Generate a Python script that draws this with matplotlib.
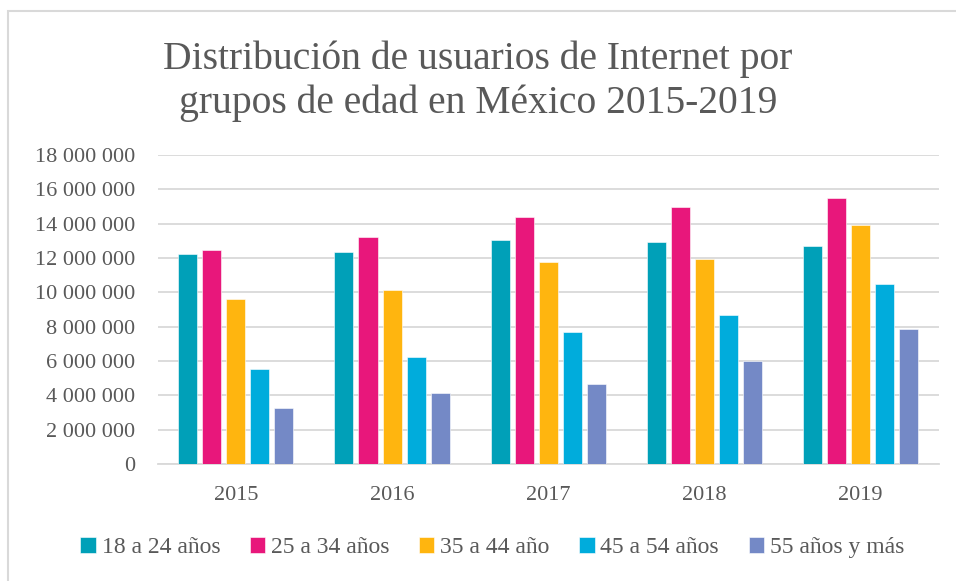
import matplotlib
matplotlib.use("Agg")
import matplotlib.pyplot as plt
from matplotlib.patches import Rectangle
from matplotlib.ticker import FuncFormatter
import numpy as np

# data
years = ["2015", "2016", "2017", "2018", "2019"]
groups = ["18 a 24 años", "25 a 34 años", "35 a 44 año", "45 a 54 años", "55 años y más"]
g18_24 = [12210000, 12350000, 13030000, 12950000, 12710000]
g25_34 = [12450000, 13200000, 14370000, 14950000, 15470000]
g35_44 = [9590000, 10150000, 11750000, 11960000, 13920000]
g45_54 = [5520000, 6250000, 7710000, 8700000, 10470000]
g55 = [3240000, 4120000, 4640000, 6020000, 7860000]
series = [g18_24, g25_34, g35_44, g45_54, g55]
colors = ["#00A0B8", "#E8177B", "#FFB50F", "#00ACDC", "#7489C6"]

text_color = "#595959"
plt.rcParams["font.family"] = ["Liberation Serif", "DejaVu Serif"]

fig = plt.figure(figsize=(9.56, 5.81), dpi=100)
ax = fig.add_axes([0.165, 0.2014, 0.817, 0.5318])

x = np.arange(len(years))
pitch = 0.154
width = 0.122
for i, (vals, col, lab) in enumerate(zip(series, colors, groups)):
    ax.bar(x + (i - 2) * pitch, vals, width, color=col, label=lab,
           edgecolor="white", linewidth=0.4, zorder=3)

ax.set_xlim(-0.5, len(years) - 0.5)
ax.set_ylim(0, 18000000)
ax.set_yticks(np.arange(0, 18000001, 2000000))
ax.yaxis.set_major_formatter(FuncFormatter(lambda v, p: f"{int(v):,}".replace(",", " ")))
ax.set_xticks(x)
ax.set_xticklabels(years)
ax.grid(axis="y", color="#D9D9D9", linewidth=1.3, zorder=0)
for s in ["top", "right", "left"]:
    ax.spines[s].set_visible(False)
ax.spines["bottom"].set_color("#D9D9D9")
ax.spines["bottom"].set_linewidth(1.3)
ax.tick_params(length=0, labelsize=16, labelcolor=text_color)
ax.tick_params(axis="y", pad=16.5)
ax.tick_params(axis="x", pad=16)

fig.text(0.5, 0.86, "Distribución de usuarios de Internet por\ngrupos de edad en México 2015-2019",
         ha="center", va="center", fontsize=28.5, color=text_color, linespacing=1.2)

fig.legend(loc="center", bbox_to_anchor=(0.515, 0.057), ncol=5, frameon=False,
           fontsize=17, labelcolor=text_color, handlelength=0.65, handleheight=0.65,
           handletextpad=0.25, columnspacing=1.25)

# chart border (only top and left visible in the crop)
fig.patches.append(Rectangle((8 / 956, -0.1), 1.2, 1 - 11 / 581 + 0.1, transform=fig.transFigure,
                             fill=False, edgecolor="#D9D9D9", linewidth=1.5))

fig.savefig("out.png", dpi=100)
